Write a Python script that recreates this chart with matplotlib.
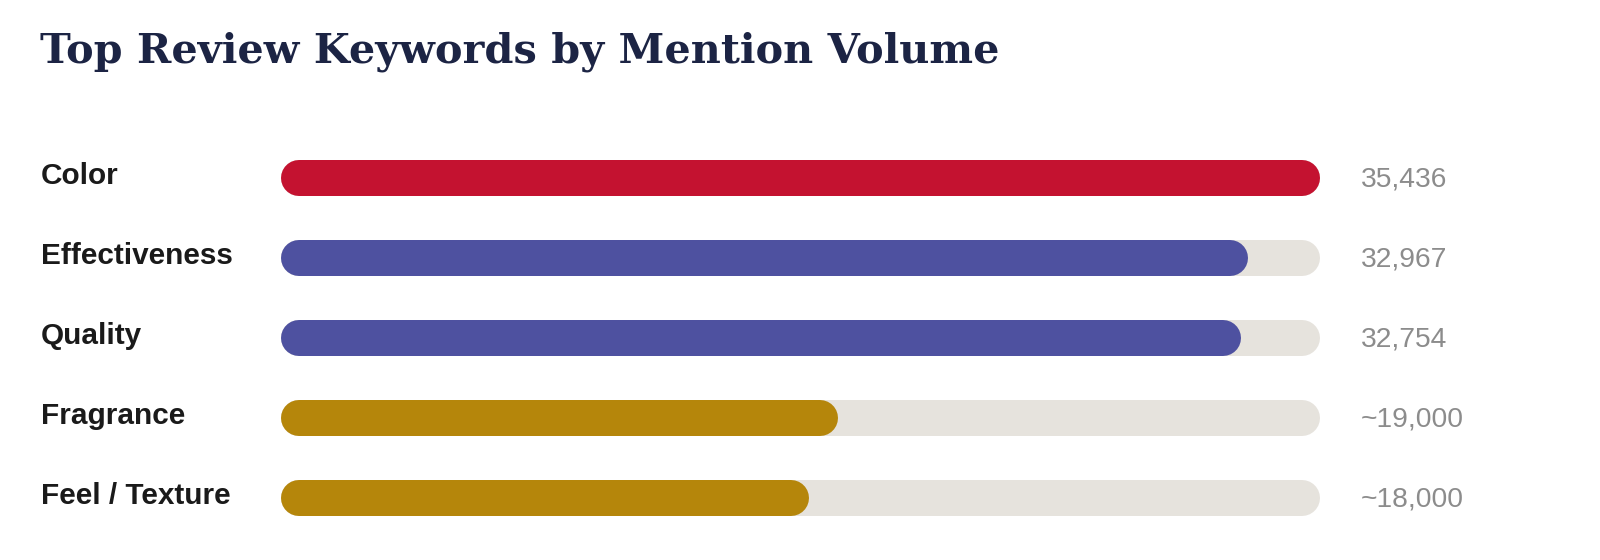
import matplotlib.pyplot as plt
import matplotlib.transforms as mtransforms

# data
keywords = ['Color', 'Effectiveness', 'Quality', 'Fragrance', 'Feel / Texture']
mentions = [35436, 32967, 32754, 19000, 18000]
value_labels = ['35,436', '32,967', '32,754', '~19,000', '~18,000']
bar_colors = ['#C41230', '#4E51A0', '#4E51A0', '#B5860B', '#B5860B']
track_color = '#E6E3DD'

W, H, DPI = 1600, 560, 100
fig = plt.figure(figsize=(W / DPI, H / DPI), dpi=DPI)
fig.patch.set_facecolor('white')

# axes placed in pixels: track from x=281 to 1320, rows 137.5..537.5 from top
left, right = 281, 1320
top, bottom = 137.5, 537.5
row_px = (bottom - top) / len(keywords)
ax = fig.add_axes([left / W, 1 - bottom / H, (right - left) / W, (bottom - top) / H])
ax.set_xlim(0, max(mentions))
ax.set_ylim(len(keywords) - 0.5, -0.5)
ax.axis('off')

bar_px = 36
lw = bar_px * 72 / DPI
r = (bar_px / 2) * max(mentions) / (right - left)  # cap radius in data units

for i, (k, v) in enumerate(zip(keywords, mentions)):
    ax.plot([r, max(mentions) - r], [i, i], color=track_color, lw=lw,
            solid_capstyle='round', zorder=1)
    ax.plot([r, v - r], [i, i], color=bar_colors[i], lw=lw,
            solid_capstyle='round', zorder=2)

trans = mtransforms.blended_transform_factory(fig.transFigure, ax.transData)
for i, k in enumerate(keywords):
    ax.text(41 / W, i + 6.5 / row_px, k, transform=trans, ha='left', va='baseline',
            fontsize=21.4, fontweight='bold', color='#1a1a1a',
            family='Liberation Sans')
    ax.text(1361 / W, i + 8.5 / row_px, value_labels[i], transform=trans,
            ha='left', va='baseline', fontsize=20.3, color='#8c8c8c',
            family='Liberation Sans')

fig.text(40 / W, 1 - 63 / H, 'Top Review Keywords by Mention Volume',
         ha='left', va='baseline', fontsize=29.8, fontweight='bold',
         color='#1c2444', family='DejaVu Serif')

fig.savefig('out.png', dpi=DPI)
